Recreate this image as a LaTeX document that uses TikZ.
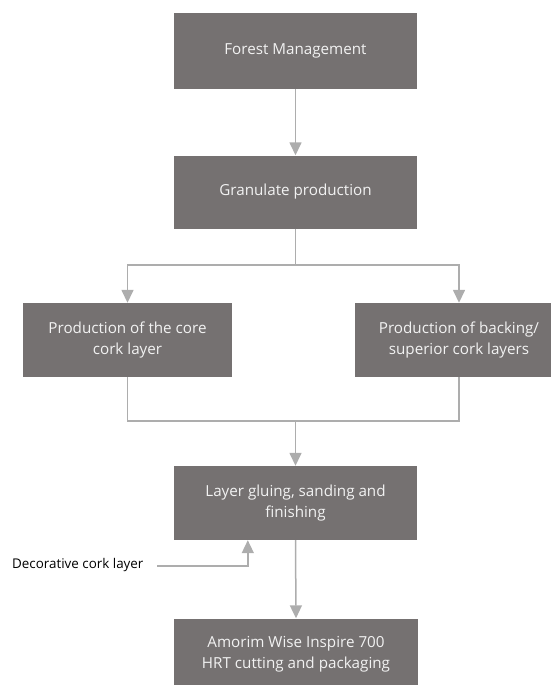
\documentclass[tikz,border=0pt]{standalone}
\usepackage{fontspec}
\setmainfont{Open Sans}
\usetikzlibrary{arrows.meta}
\definecolor{boxfill}{HTML}{757171}
\definecolor{linegray}{HTML}{ADADAD}
\definecolor{boxtext}{HTML}{F2F2F2}
\begin{document}
\begin{tikzpicture}[x=1pt,y=-1pt,
  procbox/.style={fill=boxfill, draw=none, text=boxtext, align=center,
    inner sep=0pt, font=\fontsize{15.2}{21}\selectfont},
  conn/.style={draw=linegray, line width=1.5pt},
  arr/.style={conn, -{Triangle[length=13pt,width=12pt]}}]
\useasboundingbox (0,0) rectangle (551,685);
\clip (0,0) rectangle (551,685);
\node[procbox, minimum width=243pt, minimum height=76pt] (b1) at (295.5,51) {Forest Management};
\node[procbox, minimum width=243pt, minimum height=73pt] (b2) at (295.5,192) {Granulate production};
\node[procbox, minimum width=209pt, minimum height=74pt] (left) at (127.5,340) {Production of the core\\cork layer};
\node[procbox, minimum width=209pt, minimum height=74pt] (right) at (459,340) {Production of backing/\\superior cork layers};
\node[procbox, minimum width=243pt, minimum height=74pt] (b3) at (295.5,503) {Layer gluing, sanding and\\finishing};
\node[procbox, minimum width=244pt, minimum height=72pt] (b5) at (296,654.5) {Amorim Wise Inspire 700\\HRT cutting and packaging};
\node[anchor=west, inner sep=0pt, font=\fontsize{13.4}{16}\selectfont] (deco) at (12,565.5) {Decorative cork layer};
\coordinate (split) at (295.5,265);
\coordinate (merge) at (295.5,421);
\coordinate (dstart) at (157,566);
\draw[arr] (b1) -- (b2);
\draw[conn] (b2.south) -- (split);
\draw[arr] (split) -| (left.north);
\draw[arr] (split) -| (right.north);
\draw[conn] (left.south) |- (merge);
\draw[conn] (right.south) |- (merge);
\draw[arr] (merge) -- (b3.north);
\draw[arr] (dstart) -| ([xshift=74pt]b3.south west);
\draw[arr] (b3.south) -- (b5.north);
\end{tikzpicture}
\end{document}
